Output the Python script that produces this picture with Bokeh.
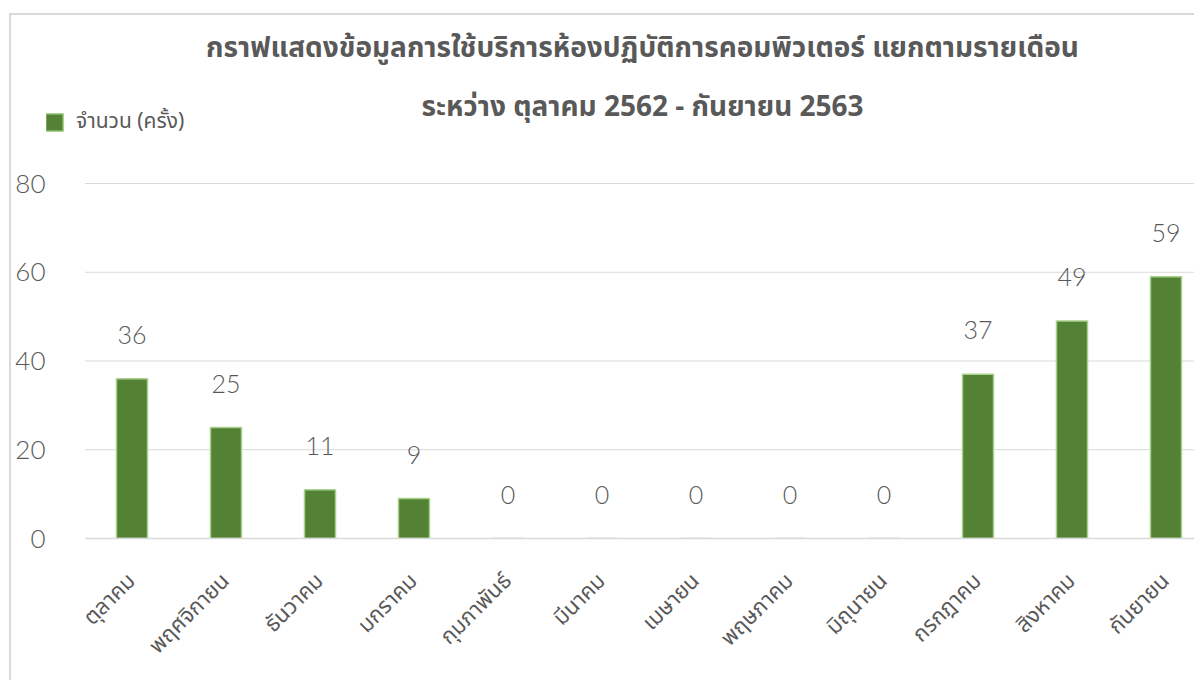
import math
from bokeh.plotting import figure
from bokeh.models import ColumnDataSource, FixedTicker, Label, LabelSet, Legend, LegendItem
from bokeh.core.properties import value
from bokeh.embed import file_html
from bokeh.resources import INLINE

# ---- data ----
months = ["ตุลาคม", "พฤศจิกายน", "ธันวาคม", "มกราคม", "กุมภาพันธ์", "มีนาคม",
          "เมษายน", "พฤษภาคม", "มิถุนายน", "กรกฎาคม", "สิงหาคม", "กันยายน"]
counts = [36, 25, 11, 9, 0, 0, 0, 0, 0, 37, 49, 59]
series_name = "จำนวน (ครั้ง)"
title_line1 = "กราฟแสดงข้อมูลการใช้บริการห้องปฏิบัติการคอมพิวเตอร์ แยกตามรายเดือน"
title_line2 = "ระหว่าง ตุลาคม 2562 - กันยายน 2563"
y_ticks = [0, 20, 40, 60, 80]

FONT = "'Noto Sans Thai', 'Noto Sans', 'Open Sans', sans-serif"
NUM_FONT = "'Segoe UI Light', 'Lato Light', 'Open Sans Light', 'Noto Sans Light', Lato, 'Open Sans', sans-serif"
TXT = "#595959"
GRID = "#d9d9d9"

# ---- layout constants (pixels) ----
W, H = 1194, 680
OX, OY = 0, 0                 # where the canvas lands in the picture
FRAME_L, FRAME_T, FRAME_B = 46, 12, 538   # picture pixels
X0_PX, X_STEP = 84.5, 94.0    # picture x of data x=-0.5, px per category
Y_PX_PER = (538 - 183) / 80.0

x_start = -0.5 - (X0_PX - FRAME_L) / X_STEP
x_end = -0.5 + (OX + W - X0_PX) / X_STEP
y_end = 80 + (183 - FRAME_T) / Y_PX_PER

def ydata(py):
    return (FRAME_B - py) / Y_PX_PER

positions = list(range(len(months)))
src = ColumnDataSource(dict(x=positions, count=counts, label=[str(c) for c in counts]))

p = figure(width=W, height=H, output_backend="svg", toolbar_location=None,
           x_range=(x_start, x_end), y_range=(0, y_end),
           min_border_left=FRAME_L - OX, min_border_right=0,
           min_border_top=FRAME_T - OY, min_border_bottom=H - (FRAME_B - OY))
p.border_fill_color = None
p.background_fill_color = None
p.styles = {
    "background": "linear-gradient(#d9d9d9,#d9d9d9) 9px 13px / 2px 100% no-repeat, "
                  "linear-gradient(#d9d9d9,#d9d9d9) 9px 13px / 100% 2px no-repeat"
}

# horizontal gridlines (start at the first category edge, like the reference)
grid_y = [t for t in y_ticks if t > 0]
p.segment(x0=[-0.5] * len(grid_y), x1=[x_end] * len(grid_y), y0=grid_y, y1=grid_y,
          line_color=GRID, line_width=1)

bars = p.vbar(x="x", top="count", width=0.33, source=src, fill_color="#548235",
              line_color="#a9d18e", line_width=1.5)

labels = LabelSet(x="x", y="count", text="label", source=src, y_offset=44,
                  text_align="center", text_baseline="middle",
                  text_font=value(NUM_FONT), text_font_size="25px", text_color=TXT)
p.add_layout(labels)

x_mid = -0.5 + (642 - X0_PX) / X_STEP
for txt, py in ((title_line1, 48), (title_line2, 107)):
    p.add_layout(Label(x=x_mid, y=ydata(py), text=txt, text_align="center",
                       text_baseline="middle", text_font=FONT, text_font_size="28px",
                       text_font_style="bold", text_color=TXT))

leg = Legend(items=[LegendItem(label=series_name, renderers=[bars])],
             location=(-3, 401), orientation="horizontal")
leg.padding = 0
leg.margin = 0
leg.border_line_color = None
leg.background_fill_alpha = 0
leg.glyph_width = 22
leg.glyph_height = 22
leg.label_standoff = 11
leg.label_text_font = FONT
leg.label_text_font_size = "21px"
leg.label_text_color = TXT
p.add_layout(leg, "center")

# axes
p.yaxis.ticker = FixedTicker(ticks=y_ticks)
p.yaxis.axis_line_color = None
p.yaxis.major_tick_line_color = None
p.yaxis.major_tick_out = 0
p.yaxis.major_tick_in = 0
p.yaxis.minor_tick_line_color = None
p.yaxis.major_label_text_font = NUM_FONT
p.yaxis.major_label_text_font_size = "26px"
p.yaxis.major_label_text_color = TXT
p.yaxis.major_label_standoff = 1

p.xaxis.ticker = FixedTicker(ticks=positions)
p.xaxis.bounds = (-0.5, x_end)
p.xaxis.major_label_overrides = {i: m for i, m in enumerate(months)}
p.xaxis.major_label_orientation = math.pi / 4
p.xaxis.axis_line_color = GRID
p.xaxis.axis_line_width = 1.5
p.xaxis.major_tick_line_color = None
p.xaxis.major_tick_out = 0
p.xaxis.major_tick_in = 0
p.xaxis.minor_tick_line_color = None
p.xaxis.major_label_text_font = FONT
p.xaxis.major_label_text_font_size = "22px"
p.xaxis.major_label_text_color = TXT
p.xaxis.major_label_standoff = 39

p.xgrid.grid_line_color = None
p.ygrid.grid_line_color = None
p.outline_line_color = None

open("out.html", "w").write(file_html(p, INLINE))
